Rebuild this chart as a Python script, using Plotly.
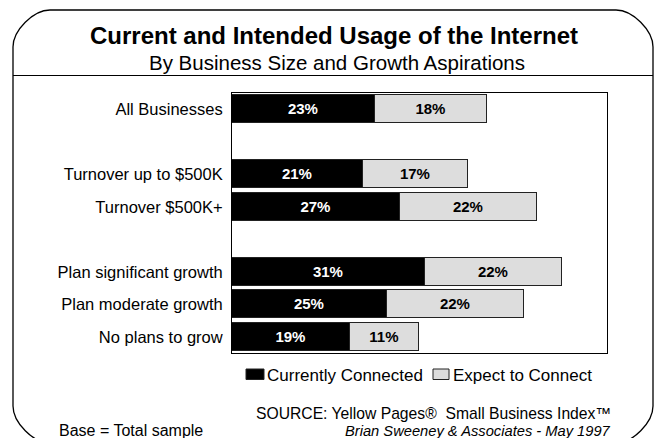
import plotly.graph_objects as go

# Row groups (a blank row separates each group)
groups = [
    ["All Businesses"],
    ["Turnover up to $500K", "Turnover $500K+"],
    ["Plan significant growth", "Plan moderate growth", "No plans to grow"],
]
connected = [23, 21, 27, 31, 25, 19]
expect = [18, 17, 22, 22, 22, 11]
series_names = ["Currently Connected", "Expect to Connect"]
series_colors = ["#000000", "#dddddd"]
label_colors = ["white", "black"]

title = "Current and Intended Usage of the Internet"
subtitle = "By Business Size and Growth Aspirations"
source = "SOURCE: Yellow Pages®  Small Business Index™"
credit = "Brian Sweeney & Associates - May 1997"
base_note = "Base = Total sample"

# ---- row positions ----
categories, rows = [], []
pos = 0
for g in groups:
    for c in g:
        categories.append(c)
        rows.append(pos)
        pos += 1
    pos += 1
n_slots = pos - 1

W, H = 660, 438
L, R, T, B = 232, 53, 93, 85
FONT = "Liberation Sans, Arial, sans-serif"
OUTLINE = "#222222"


def px(x):
    return (x - L) / (W - L - R)


def py(y):
    return (H - B - y) / (H - T - B)


fig = go.Figure()
for name, vals, col, tcol in zip(series_names, [connected, expect],
                                 series_colors, label_colors):
    fig.add_trace(go.Bar(
        y=rows, x=vals, orientation="h", name=name,
        marker=dict(color=col, line=dict(color=OUTLINE, width=1.2)),
        width=0.87,
        text=[f"{v}%" for v in vals], textposition="inside",
        insidetextanchor="middle", textangle=0,
        textfont=dict(family=FONT, size=15, color=tcol, weight="bold"),
        hoverinfo="skip", showlegend=False,
    ))

# ---- rounded outer frame ----
x0, x1, y0, y1, r = 13, 653, 10, 443, 37
k = 0.45 * r
pts = [
    ("M", [(x0 + r, y0)]),
    ("L", [(x1 - r, y0)]),
    ("C", [(x1 - r + k, y0), (x1, y0 + r - k), (x1, y0 + r)]),
    ("L", [(x1, y1 - r)]),
    ("C", [(x1, y1 - r + k), (x1 - r + k, y1), (x1 - r, y1)]),
    ("L", [(x0 + r, y1)]),
    ("C", [(x0 + r - k, y1), (x0, y1 - r + k), (x0, y1 - r)]),
    ("L", [(x0, y0 + r)]),
    ("C", [(x0, y0 + r - k), (x0 + r - k, y0), (x0 + r, y0)]),
]
path = " ".join(
    cmd + " " + " ".join(f"{px(a):.5f},{py(b):.5f}" for a, b in p) for cmd, p in pts
) + " Z"

shapes = [
    dict(type="path", path=path, xref="paper", yref="paper",
         line=dict(color="black", width=1.3), layer="below"),
    dict(type="line", xref="paper", yref="paper",
         x0=px(x0), x1=px(x1), y0=py(75.5), y1=py(75.5),
         line=dict(color="black", width=1.2)),
]

annotations = [
    dict(text=subtitle, x=px(337), y=py(63), xref="paper", yref="paper",
         showarrow=False, xanchor="center", yanchor="middle",
         font=dict(family=FONT, size=20.5, color="black")),
    dict(text=source, x=px(613), y=py(413), xref="paper", yref="paper",
         showarrow=False, xanchor="right", yanchor="middle",
         font=dict(family=FONT, size=15.7, color="black")),
    dict(text=f"<i>{credit}</i>", x=px(613), y=py(430.5), xref="paper", yref="paper",
         showarrow=False, xanchor="right", yanchor="middle",
         font=dict(family=FONT, size=14.7, color="black")),
    dict(text=base_note, x=px(57), y=py(430), xref="paper", yref="paper",
         showarrow=False, xanchor="left", yanchor="middle",
         font=dict(family=FONT, size=16, color="black")),
]

# ---- legend: swatch + label per series ----
legend_items = [(246, 264, 265), (433, 449, 451)]
for (sx0, sx1, tx), name, col in zip(legend_items, series_names, series_colors):
    shapes.append(dict(type="rect", xref="paper", yref="paper",
                       x0=px(sx0), x1=px(sx1), y0=py(369), y1=py(379.5),
                       fillcolor=col, line=dict(color=OUTLINE, width=1)))
    annotations.append(dict(text=name, x=px(tx), y=py(375.5), xref="paper",
                            yref="paper", showarrow=False, xanchor="left",
                            yanchor="middle",
                            font=dict(family=FONT, size=17, color="black")))

fig.update_layout(
    width=W, height=H,
    margin=dict(l=L, r=R, t=T, b=B, pad=0),
    paper_bgcolor="white", plot_bgcolor="white",
    barmode="stack", bargap=0, showlegend=False,
    title=dict(text=f"<b>{title}</b>", x=px(334), xref="paper",
               y=1 - 36 / H, yref="container", xanchor="center", yanchor="middle",
               font=dict(family=FONT, size=24, color="black")),
    font=dict(family=FONT, color="black"),
    xaxis=dict(range=[0, 60.3], showgrid=False, zeroline=False,
               showticklabels=False, ticks="", showline=True, mirror=True,
               linecolor="black", linewidth=1),
    yaxis=dict(range=[n_slots - 0.5, -0.5], tickvals=rows, ticktext=categories,
               showgrid=False, zeroline=False, ticks="", showline=True,
               mirror=True, linecolor="black", linewidth=1,
               ticklabelstandoff=5,
               tickfont=dict(family=FONT, size=16.5, color="black")),
    shapes=shapes,
    annotations=annotations,
)

fig.write_html("out.html")
